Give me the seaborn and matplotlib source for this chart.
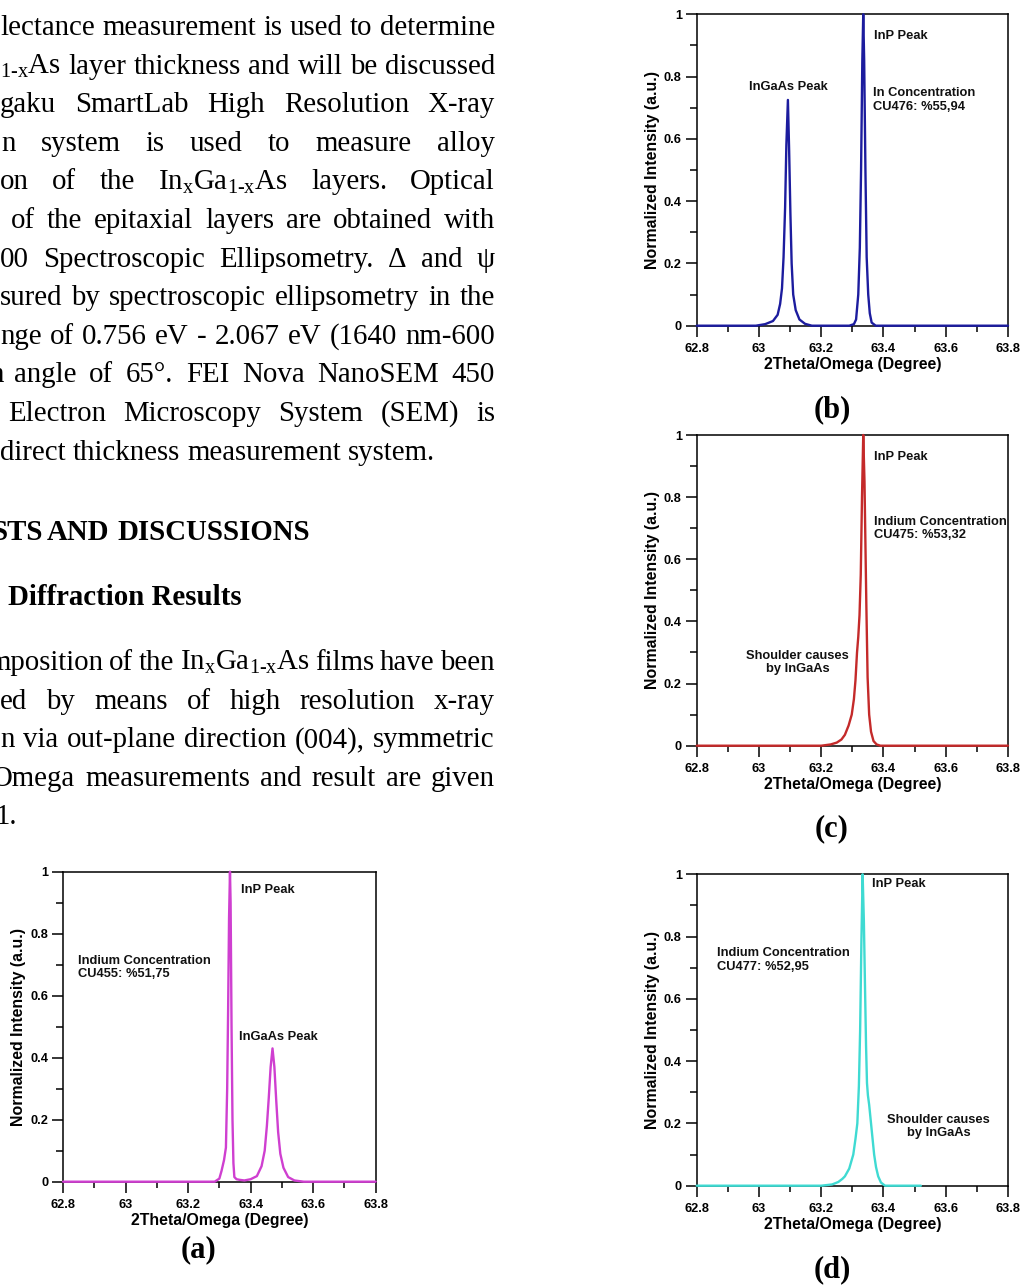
import matplotlib
matplotlib.use("Agg")
import matplotlib.pyplot as plt
from matplotlib.ticker import MultipleLocator
import seaborn as sns

# ---------------- data ----------------
x_a = [62.80, 63.285, 63.300, 63.307, 63.315, 63.321, 63.325, 63.328, 63.331, 63.334,
       63.336, 63.339, 63.342, 63.345, 63.348, 63.355, 63.365, 63.380, 63.400, 63.420,
       63.435, 63.445, 63.452, 63.458, 63.464, 63.470, 63.476, 63.482, 63.488, 63.495,
       63.505, 63.520, 63.540, 63.570, 63.800]
y_a = [0, 0, 0.01, 0.035, 0.07, 0.11, 0.30, 0.55, 0.85, 1.00,
       0.90, 0.50, 0.20, 0.06, 0.015, 0.008, 0.006, 0.004, 0.008, 0.018,
       0.05, 0.10, 0.18, 0.27, 0.37, 0.43, 0.37, 0.26, 0.16, 0.09,
       0.045, 0.015, 0.004, 0, 0]

x_b = [62.80, 62.99, 63.02, 63.045, 63.060, 63.068, 63.074, 63.079, 63.084, 63.088,
       63.093, 63.097, 63.101, 63.105, 63.110, 63.118, 63.130, 63.148, 63.170, 63.290,
       63.305, 63.312, 63.319, 63.324, 63.328, 63.332, 63.335, 63.338, 63.342, 63.346,
       63.351, 63.356, 63.362, 63.375, 63.80]
y_b = [0, 0, 0.005, 0.015, 0.035, 0.07, 0.12, 0.22, 0.38, 0.58,
       0.725, 0.56, 0.36, 0.20, 0.10, 0.05, 0.02, 0.006, 0, 0,
       0.005, 0.02, 0.10, 0.25, 0.50, 0.85, 1.0, 0.85, 0.50, 0.22,
       0.10, 0.04, 0.01, 0, 0]

x_c = [62.80, 63.20, 63.23, 63.25, 63.265, 63.276, 63.288, 63.298, 63.305, 63.310,
       63.315, 63.319, 63.323, 63.327, 63.331, 63.335, 63.339, 63.342, 63.345, 63.349,
       63.354, 63.360, 63.368, 63.378, 63.39, 63.80]
y_c = [0, 0, 0.004, 0.01, 0.02, 0.035, 0.065, 0.10, 0.15, 0.21,
       0.30, 0.35, 0.42, 0.55, 0.80, 1.0, 0.85, 0.65, 0.45, 0.22,
       0.10, 0.045, 0.015, 0.004, 0, 0]

x_d = [62.80, 63.20, 63.235, 63.255, 63.268, 63.276, 63.290, 63.303, 63.310, 63.316,
       63.321, 63.325, 63.329, 63.333, 63.337, 63.341, 63.344, 63.347, 63.350, 63.354,
       63.360, 63.365, 63.370, 63.376, 63.383, 63.392, 63.405, 63.520]
y_d = [0, 0, 0.004, 0.012, 0.022, 0.03, 0.055, 0.10, 0.15, 0.20,
       0.32, 0.50, 0.78, 1.0, 0.85, 0.62, 0.45, 0.33, 0.29, 0.26,
       0.20, 0.15, 0.10, 0.06, 0.03, 0.01, 0, 0]

x_ticks = [62.8, 63.0, 63.2, 63.4, 63.6, 63.8]
x_tick_labels = ["62.8", "63", "63.2", "63.4", "63.6", "63.8"]
y_ticks = [0, 0.2, 0.4, 0.6, 0.8, 1.0]
y_tick_labels = ["0", "0.2", "0.4", "0.6", "0.8", "1"]
x_label = "2Theta/Omega (Degree)"
y_label = "Normalized Intensity (a.u.)"

# annotations: (text, x, y, ha)
notes_a = [("InP Peak", 63.368, 0.941, "left"),
           ("Indium Concentration\nCU455: %51,75", 62.847, 0.692, "left"),
           ("InGaAs Peak", 63.362, 0.467, "left")]
notes_b = [("InP Peak", 63.370, 0.930, "left"),
           ("InGaAs Peak", 62.968, 0.766, "left"),
           ("In Concentration\nCU476: %55,94", 63.367, 0.725, "left")]
notes_c = [("InP Peak", 63.370, 0.928, "left"),
           ("Indium Concentration\nCU475: %53,32", 63.370, 0.700, "left"),
           ("Shoulder causes\nby InGaAs", 63.125, 0.267, "center")]
notes_d = [("InP Peak", 63.362, 0.969, "left"),
           ("Indium Concentration\nCU477: %52,95", 62.864, 0.725, "left"),
           ("Shoulder causes\nby InGaAs", 63.577, 0.191, "center")]

panel_labels = ["(a)", "(b)", "(c)", "(d)"]
colors = ["#cf3fd0", "#1c1c9e", "#c42a2a", "#3fdad2"]

SUB_1X = "$\\mathregular{_{1\u2010x}}$"
SUB_X = "$\\mathregular{_{x}}$"
INGAAS = "In" + SUB_X + "Ga" + SUB_1X + "As"

# page text
para1 = [
    (["lectance", "measurement", "is", "used", "to", "determine"], 0, True),
    ([SUB_1X + "As", "layer", "thickness", "and", "will", "be", "discussed"], 0, True),
    (["gaku", "SmartLab", "High", "Resolution", "X-ray"], 0, True),
    (["n", "system", "is", "used", "to", "measure", "alloy"], 1, True),
    (["on", "of", "the", INGAAS, "layers.", "Optical"], 0, True),
    (["of", "the", "epitaxial", "layers", "are", "obtained", "with"], 11, True),
    (["00", "Spectroscopic", "Ellipsometry.", "Δ", "and", "ψ"], 0, True),
    (["sured", "by", "spectroscopic", "ellipsometry", "in", "the"], 0, True),
    (["nge", "of", "0.756", "eV", "-", "2.067", "eV", "(1640", "nm-600"], 0, True),
    (["angle", "of", "65°.", "FEI", "Nova", "NanoSEM", "450"], 14, True),
    (["Electron", "Microscopy", "System", "(SEM)", "is"], 8, True),
    (["direct", "thickness", "measurement", "system."], 0, False),
]
para2 = [
    (["mposition", "of", "the", INGAAS, "films", "have", "been"], -12, True),
    (["ed", "by", "means", "of", "high", "resolution", "x-ray"], 0, True),
    (["n", "via", "out-plane", "direction", "(004),", "symmetric"], 0, True),
    (["Omega", "measurements", "and", "result", "are", "given"], -8, True),
    (["1."], -4, False),
]

# ---------------- style ----------------
sns.set_theme(style="ticks")
plt.rcParams["font.family"] = ["Liberation Sans", "DejaVu Sans"]
plt.rcParams["mathtext.fontset"] = "custom"
plt.rcParams["mathtext.rm"] = "Liberation Serif"
plt.rcParams["mathtext.it"] = "Liberation Serif:italic"
plt.rcParams["mathtext.bf"] = "Liberation Serif:bold"
for key in ["text.color", "axes.labelcolor", "xtick.color", "ytick.color",
            "xtick.labelcolor", "ytick.labelcolor", "axes.edgecolor"]:
    plt.rcParams[key] = "black"

W, H = 1024, 1287
fig = plt.figure(figsize=(W / 100, H / 100), dpi=100, facecolor="white")
renderer = fig.canvas.get_renderer()


def fpos(x, y):
    return x / W, 1 - y / H


SERIF = ["Liberation Serif", "DejaVu Serif"]
FS = 20.8


def place_line(words, yb, x0, justify, x1=495, weight="normal", size=FS):
    texts = [fig.text(0, 0, w, fontsize=size, family=SERIF, weight=weight,
                      va="baseline", ha="left", color="black") for w in words]
    widths = [t.get_window_extent(renderer).width for t in texts]
    if justify and len(words) > 1:
        gap = (x1 - x0 - sum(widths)) / (len(words) - 1)
    else:
        gap = 0.25 * size * 100 / 72
    x = x0
    for t, w in zip(texts, widths):
        t.set_position(fpos(x, yb))
        x += w + gap


for i, (words, x0, just) in enumerate(para1):
    place_line(words, 35 + 38.6 * i, x0, just)
# cut "n" before "angle"
fig.text(*fpos(3.5, 35 + 38.6 * 9), "n", fontsize=FS, family=SERIF, ha="right", va="baseline")

# heading
fig.text(*fpos(43, 540), "STS", fontsize=FS, family=SERIF, weight="bold", ha="right", va="baseline")
fig.text(*fpos(47, 540), "AND", fontsize=FS, family=SERIF, weight="bold", ha="left", va="baseline")
fig.text(*fpos(310, 540), "DISCUSSIONS", fontsize=FS, family=SERIF, weight="bold",
         ha="right", va="baseline")
fig.text(*fpos(8, 605), "Diffraction Results", fontsize=FS, family=SERIF,
         weight="bold", ha="left", va="baseline")

for i, (words, x0, just) in enumerate(para2):
    place_line(words, 670 + 38.6 * i, x0, just)

# ---------------- plots ----------------
# (left, top, right, bottom) in pixels
boxes = [(63, 871.7, 375.7, 1181.7),
         (696.7, 14.3, 1008, 325.7),
         (696.7, 435, 1008, 745.7),
         (696.7, 874.3, 1008, 1185.7)]
series = [(x_a, y_a), (x_b, y_b), (x_c, y_c), (x_d, y_d)]
notes = [notes_a, notes_b, notes_c, notes_d]
label_pos = [(198, 1250), (832, 410), (832, 829), (832, 1270)]

for k in range(4):
    l, t, r, b = boxes[k]
    ax = fig.add_axes([l / W, 1 - b / H, (r - l) / W, (b - t) / H])
    ax.set_facecolor("white")
    xs, ys = series[k]
    sns.lineplot(x=xs, y=ys, ax=ax, color=colors[k], lw=1.7, estimator=None,
                 sort=False, zorder=5, clip_on=False)
    ax.set_xlim(62.8, 63.8)
    ax.set_ylim(0, 1)
    ax.set_xticks(x_ticks, labels=x_tick_labels, fontsize=9.2, fontweight="bold")
    ax.set_yticks(y_ticks, labels=y_tick_labels, fontsize=9.2, fontweight="bold")
    ax.xaxis.set_minor_locator(MultipleLocator(0.1))
    ax.yaxis.set_minor_locator(MultipleLocator(0.1))
    ax.tick_params(which="major", direction="out", width=1.1, color="black")
    ax.tick_params(axis="x", which="major", length=8, pad=4.5)
    ax.tick_params(axis="y", which="major", length=7.7, pad=3)
    ax.tick_params(axis="x", which="minor", direction="out", length=4, width=1.1, color="black")
    ax.tick_params(axis="y", which="minor", direction="out", length=4.8, width=1.1, color="black")
    for s in ax.spines.values():
        s.set_linewidth(1.1)
        s.set_color("black")
    ax.set_xlabel(x_label, fontsize=11.4, fontweight="bold", color="black")
    ax.set_ylabel(y_label, fontsize=11.4, fontweight="bold", color="black")
    ax.xaxis.set_label_coords(0.5, -0.1)
    ax.yaxis.set_label_coords(-0.118, 0.5)
    ax.grid(False)
    for txt, xx, yy, ha in notes[k]:
        ax.text(xx, yy, txt, fontsize=9.3, fontweight="bold", ha=ha, va="center",
                multialignment=ha, linespacing=1.15, color="#111111")
    px, py = label_pos[k]
    fig.text(*fpos(px, py), panel_labels[k], fontsize=22, family=SERIF, weight="bold",
             ha="center", va="center", color="black")

fig.savefig("out.png", dpi=100, facecolor="white")
